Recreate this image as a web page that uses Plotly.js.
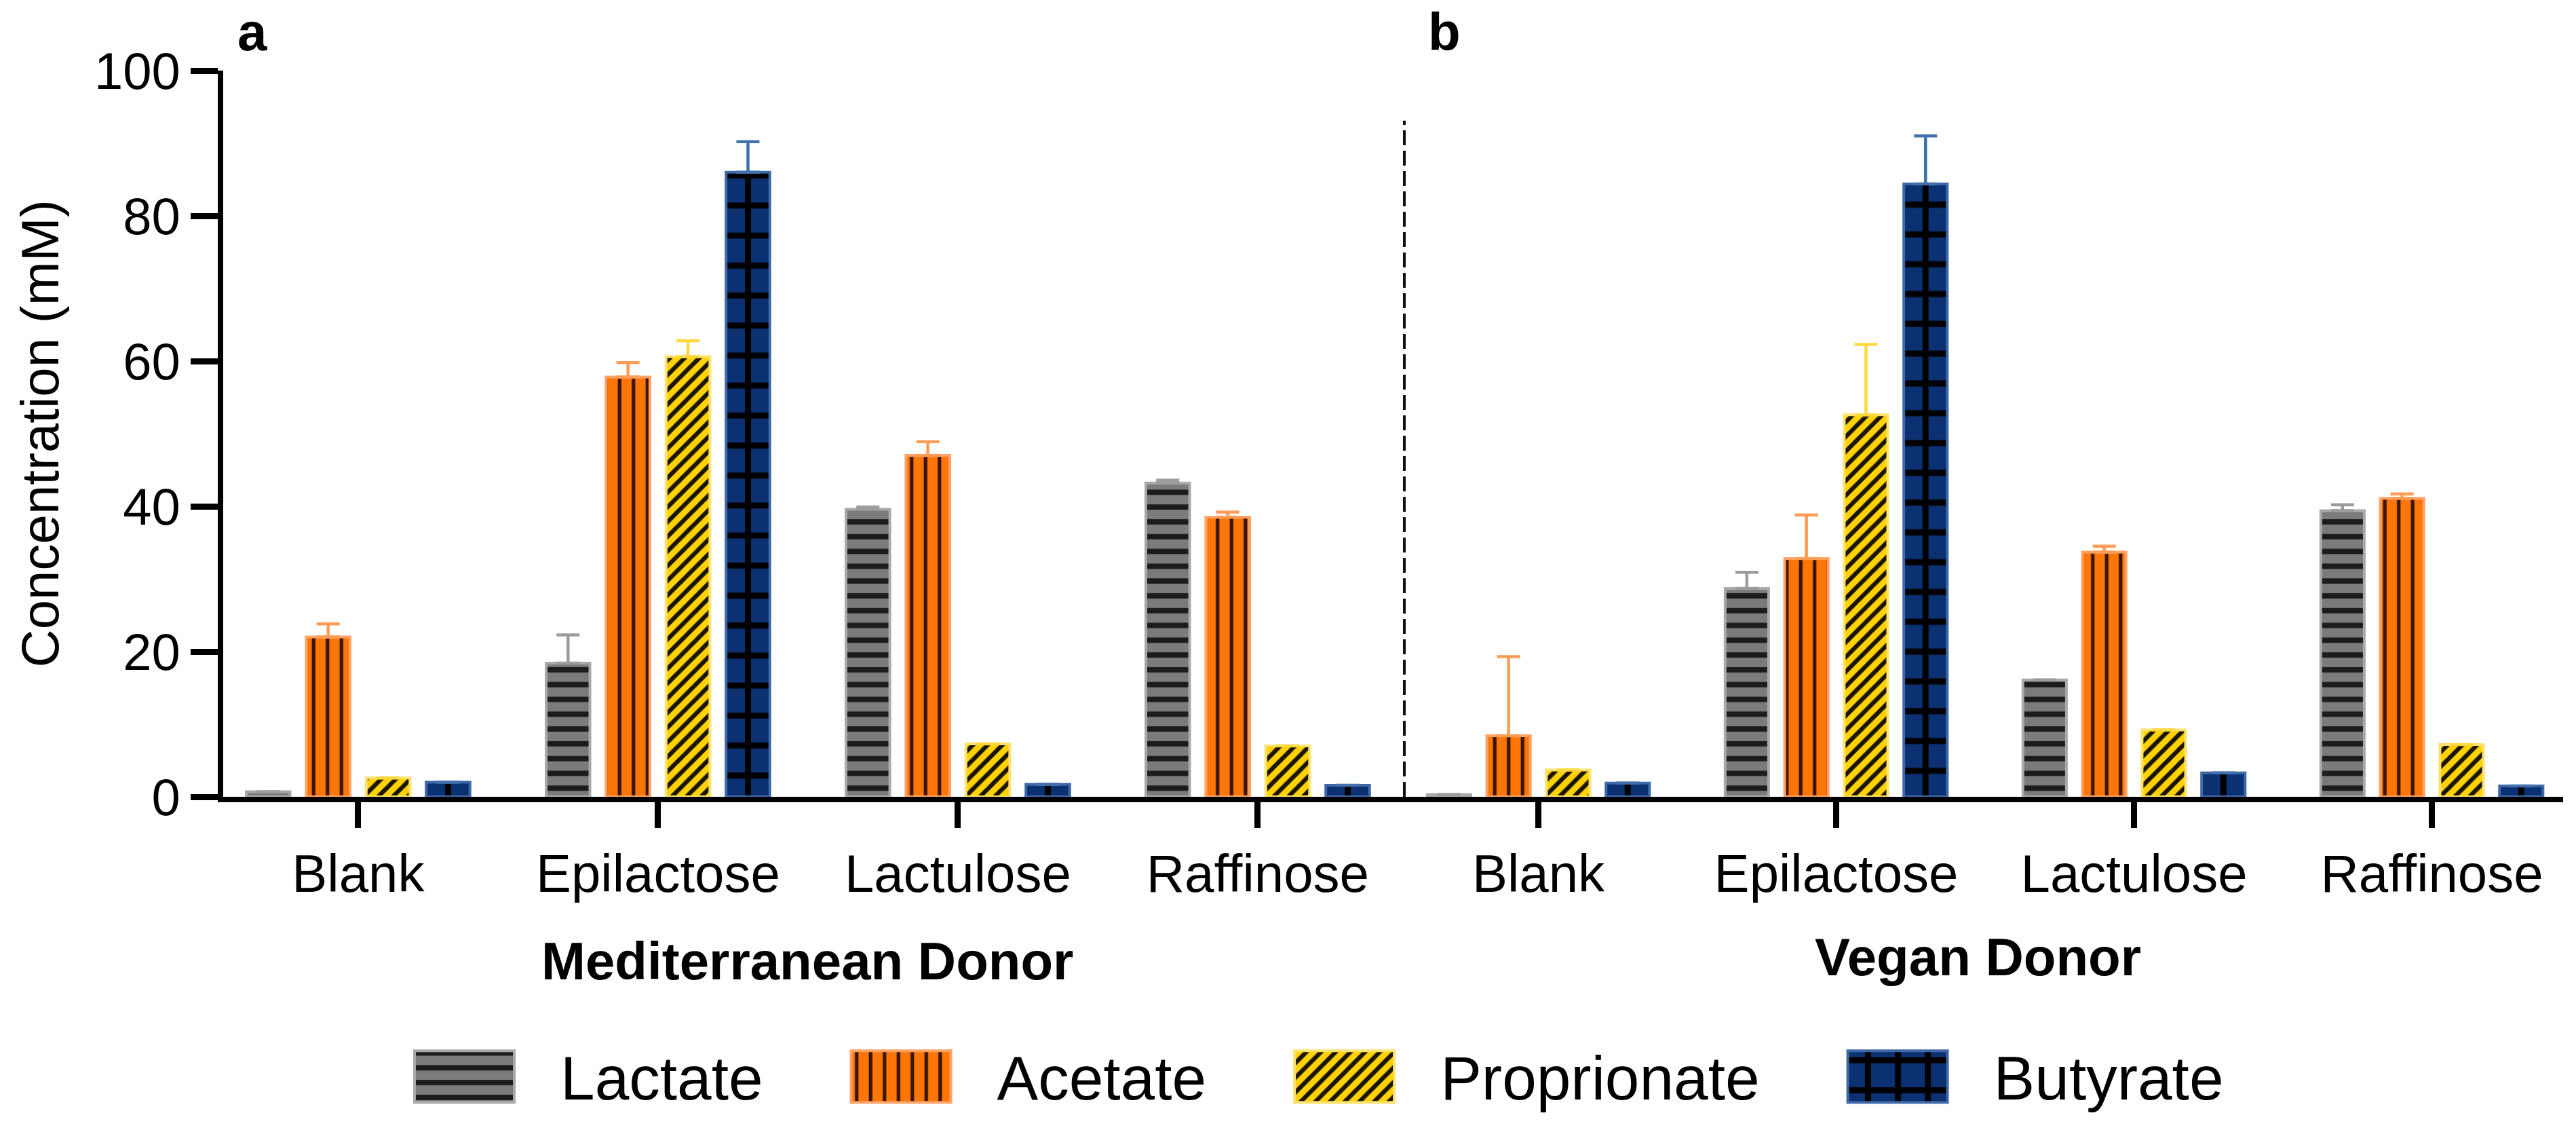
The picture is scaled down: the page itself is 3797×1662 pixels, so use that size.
<!DOCTYPE html>
<html><head><meta charset="utf-8">
<script src="https://cdn.plot.ly/plotly-3.0.1.min.js"></script>
<style>html,body{margin:0;padding:0;background:#fff}#chart{width:3797px;height:1662px}</style>
</head><body><div id="chart"></div>
<script>
// ---- data ----
const categories = ['Blank', 'Epilactose', 'Lactulose', 'Raffinose'];
const seriesNames = ['Lactate', 'Acetate', 'Proprionate', 'Butyrate'];
const groupLabels = ['Mediterranean Donor', 'Vegan Donor'];
const panelLabels = ['a', 'b'];
const yTickVals = [0, 20, 40, 60, 80, 100];

// Mediterranean donor (panel a)
const medLactate = [0.7, 18.4, 39.6, 43.2];
const medLactateErr = [null, 3.9, 0.3, 0.4];
const medAcetate = [22.0, 57.8, 47.0, 38.5];
const medAcetateErr = [1.8, 2.0, 1.9, 0.7];
const medPropionate = [2.6, 60.6, 7.3, 7.0];
const medPropionateErr = [null, 2.2, null, null];
const medButyrate = [2.0, 86.0, 1.7, 1.6];
const medButyrateErr = [null, 4.2, null, null];

// Vegan donor (panel b)
const vegLactate = [0.3, 28.7, 16.1, 39.4];
const vegLactateErr = [null, 2.2, null, 0.8];
const vegAcetate = [8.4, 32.8, 33.7, 41.1];
const vegAcetateErr = [10.9, 6.0, 0.8, 0.6];
const vegPropionate = [3.7, 52.6, 9.2, 7.2];
const vegPropionateErr = [null, 9.7, null, null];
const vegButyrate = [1.9, 84.4, 3.3, 1.5];
const vegButyrateErr = [null, 6.6, null, null];

// ---- styles ----
const FONT = 'Liberation Sans, Arial, Helvetica, sans-serif';
const styles = [
  {fill: '#7b7b7b', line: '#a9a9a9', fg: '#1c1c1c', err: '#9c9c9c', shape: '-', size: 21.8, solidity: 0.36},
  {fill: '#ff7608', line: '#ffa264', fg: '#3a1600', err: '#ff9c55', shape: '|', size: 20.5, solidity: 0.26},
  {fill: '#ffd200', line: '#ffe26a', fg: '#1a1400', err: '#ffd83d', shape: '/', size: 15.3, solidity: 0.42},
  {fill: '#0b3172', line: '#3f68a6', fg: '#000000', err: '#4170ac', shape: '+', size: null, solidity: 0.366}
];
const butyrateSize = {x: 44.2, x2: 43.9};

function makeTrace(i, xaxis, vals, errs, showlegend) {
  const s = styles[i];
  return {
    type: 'bar', name: seriesNames[i], legendgroup: seriesNames[i],
    x: categories, y: vals, xaxis: xaxis, yaxis: 'y', showlegend: showlegend,
    marker: {
      color: s.fill,
      line: {color: s.line, width: 4},
      pattern: {shape: s.shape, size: s.size || butyrateSize[xaxis], solidity: s.solidity,
                fgcolor: s.fg, bgcolor: s.fill, fgopacity: 1, fillmode: 'replace'}
    },
    error_y: {type: 'data', symmetric: false, array: errs, arrayminus: errs.map(() => 0),
              visible: true, color: s.err, thickness: 4.5, width: 17},
    hoverinfo: 'skip'
  };
}

const data = [
  makeTrace(0, 'x', medLactate, medLactateErr, true),
  makeTrace(1, 'x', medAcetate, medAcetateErr, true),
  makeTrace(2, 'x', medPropionate, medPropionateErr, true),
  makeTrace(3, 'x', medButyrate, medButyrateErr, true),
  makeTrace(0, 'x2', vegLactate, vegLactateErr, false),
  makeTrace(1, 'x2', vegAcetate, vegAcetateErr, false),
  makeTrace(2, 'x2', vegPropionate, vegPropionateErr, false),
  makeTrace(3, 'x2', vegButyrate, vegButyrateErr, false)
];

const split = 0.50478;
const xCommon = {
  type: 'category', anchor: 'y', showgrid: false, zeroline: false,
  showline: true, linewidth: 8, linecolor: '#000',
  ticks: 'outside', ticklen: 38, tickwidth: 9, tickcolor: '#000',
  tickfont: {size: 78, color: '#000', family: FONT}, fixedrange: true
};

const layout = {
  width: 3797, height: 1662,
  margin: {l: 329, r: 19, t: 104, b: 488, autoexpand: false},
  paper_bgcolor: '#ffffff', plot_bgcolor: '#ffffff',
  font: {family: FONT, color: '#000'},
  barmode: 'group', bargap: 0.2, bargroupgap: 0.27,
  showlegend: true,
  legend: {orientation: 'h', xref: 'container', yref: 'container', x: 0.128, y: 0.0863,
           xanchor: 'left', yanchor: 'top', font: {size: 91, family: FONT, color: '#000'},
           itemwidth: 330, traceorder: 'normal', bgcolor: 'rgba(0,0,0,0)', borderwidth: 0},
  xaxis: Object.assign({}, xCommon, {domain: [0, split], range: [-0.45, 3.489]}),
  xaxis2: Object.assign({}, xCommon, {domain: [split, 1], range: [-0.45, 3.4406]}),
  yaxis: {
    anchor: 'x', range: [0, 100], tickmode: 'array', tickvals: yTickVals,
    showgrid: false, zeroline: false, showline: true, linewidth: 8, linecolor: '#000',
    ticks: 'outside', ticklen: 40, tickwidth: 9, tickcolor: '#000',
    tickfont: {size: 76, color: '#000', family: FONT},
    title: {text: 'Concentration (mM)', font: {size: 78, color: '#000', family: FONT}, standoff: 30},
    fixedrange: true
  },
  shapes: [{type: 'line', xref: 'paper', yref: 'y', x0: split, x1: split, y0: 0, y1: 93.1,
            line: {color: '#111', width: 4, dash: '22px,8px'}}],
  annotations: [
    {text: '<b>' + panelLabels[0] + '</b>', xref: 'paper', yref: 'paper', x: 0.00551, y: 1.0533,
     xanchor: 'left', yanchor: 'middle', showarrow: false, font: {size: 78, family: FONT, color: '#000'}},
    {text: '<b>' + panelLabels[1] + '</b>', xref: 'paper', yref: 'paper', x: 0.5143, y: 1.0533,
     xanchor: 'left', yanchor: 'middle', showarrow: false, font: {size: 78, family: FONT, color: '#000'}},
    {text: '<b>' + groupLabels[0] + '</b>', xref: 'paper', yref: 'paper', x: 0.24964, y: -0.2262,
     xanchor: 'center', yanchor: 'middle', showarrow: false, font: {size: 78, family: FONT, color: '#000'}},
    {text: '<b>' + groupLabels[1] + '</b>', xref: 'paper', yref: 'paper', x: 0.7498, y: -0.2206,
     xanchor: 'center', yanchor: 'middle', showarrow: false, font: {size: 78, family: FONT, color: '#000'}}
  ]
};

function enlargeLegendSwatches() {
  const barTraces = gd.querySelectorAll('.barlayer .trace.bars');
  gd.querySelectorAll('.legend .traces').forEach(function (it, k) {
    const txt = it.querySelector('text.legendtext');
    let tx = txt ? parseFloat(txt.getAttribute('x')) : NaN;
    if (!isFinite(tx)) tx = 340;
    const R = tx - 68, L = R - 147;
    // use the same (coarser) pattern as the bars of this series
    let fill = null;
    const bd = it.__data__;
    const idx = (bd && bd[0] && bd[0].trace) ? bd[0].trace.index : k;
    const bt = barTraces[idx];
    if (bt) {
      const bp = bt.querySelector('path');
      if (bp) fill = bp.style.fill || bp.getAttribute('fill');
    }
    it.querySelectorAll('.legendpoints path').forEach(function (p) {
      p.setAttribute('transform', '');
      p.setAttribute('d', 'M' + R + ',40H' + L + 'V-36H' + R + 'Z');
      if (fill) p.style.fill = fill;
    });
  });
}

const gd = document.getElementById('chart');
Plotly.newPlot(gd, data, layout, {displayModeBar: false, responsive: false}).then(function () {
  enlargeLegendSwatches();
  gd.on('plotly_afterplot', enlargeLegendSwatches);
});
</script>
</body></html>
